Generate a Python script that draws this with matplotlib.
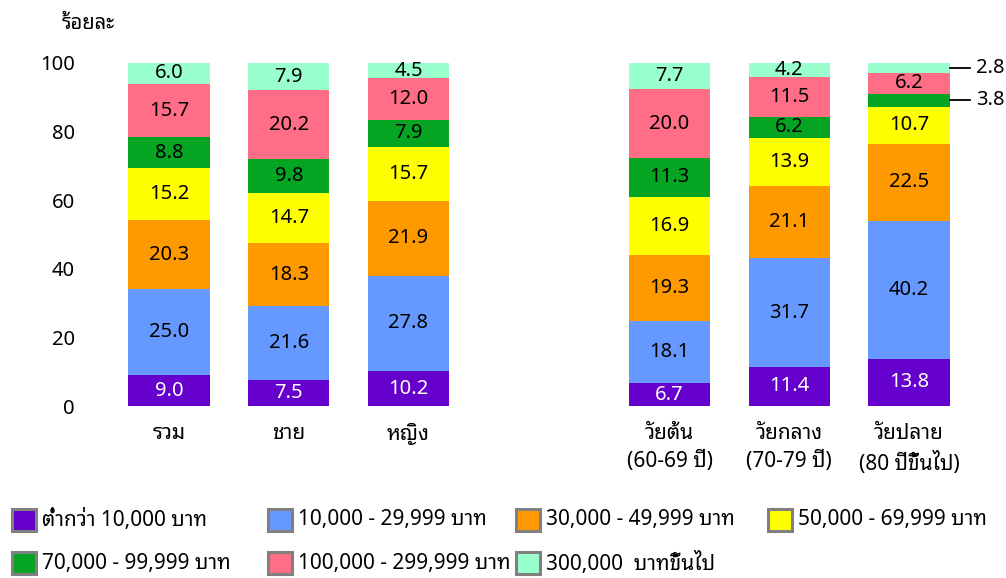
import matplotlib
matplotlib.use("Agg")
import matplotlib.pyplot as plt
from matplotlib.patches import Rectangle
import numpy as np

plt.rcParams["font.family"] = ["Noto Sans Thai Looped", "DejaVu Sans"]

# data
categories = ["รวม", "ชาย", "หญิง", "วัยต้น\n(60-69 ปี)", "วัยกลาง\n(70-79 ปี)", "วัยปลาย\n(80 ปีขึ้นไป)"]
income_groups = ["ต่ำกว่า 10,000 บาท", "10,000 - 29,999 บาท", "30,000 - 49,999 บาท",
                 "50,000 - 69,999 บาท", "70,000 - 99,999 บาท", "100,000 - 299,999 บาท",
                 "300,000  บาทขึ้นไป"]
below_10k = [9.0, 7.5, 10.2, 6.7, 11.4, 13.8]
k10_30 = [25.0, 21.6, 27.8, 18.1, 31.7, 40.2]
k30_50 = [20.3, 18.3, 21.9, 19.3, 21.1, 22.5]
k50_70 = [15.2, 14.7, 15.7, 16.9, 13.9, 10.7]
k70_100 = [8.8, 9.8, 7.9, 11.3, 6.2, 3.8]
k100_300 = [15.7, 20.2, 12.0, 20.0, 11.5, 6.2]
k300_up = [6.0, 7.9, 4.5, 7.7, 4.2, 2.8]
series = [below_10k, k10_30, k30_50, k50_70, k70_100, k100_300, k300_up]
yticks = [0, 20, 40, 60, 80, 100]

colors = ["#6600CC", "#6699FF", "#FF9900", "#FFFF00", "#05A523", "#FF6D86", "#99FFCC"]
label_colors = ["white"] + ["black"] * 6

W, H = 1006, 578
fig = plt.figure(figsize=(W / 100, H / 100), dpi=100)
ax = fig.add_axes([100 / W, (H - 406) / H, 880 / W, 343 / H])

x = np.array([0, 1, 2, 4.18, 5.18, 6.18])
bar_w = 0.68
bottom = np.zeros(len(categories))
for vals, col, tcol in zip(series, colors, label_colors):
    vals = np.array(vals)
    ax.bar(x, vals, bar_w, bottom=bottom, color=col, linewidth=0)
    for xi, b, v in zip(x, bottom, vals):
        if xi == x[-1] and v < 4:
            # small segments: leader line + label outside
            yc = b + v / 2
            ax.plot([xi + bar_w / 2, xi + bar_w / 2 + 0.17], [yc, yc], color="black", lw=1.3, clip_on=False)
            ax.text(xi + bar_w / 2 + 0.22, yc, f"{v:.1f}", ha="left", va="center", fontsize=14.5)
        else:
            ax.text(xi, b + v / 2, f"{v:.1f}", ha="center", va="center", fontsize=14.5, color=tcol)
    bottom += vals

ax.set_xlim(-69 / 119.7, 6.18 + 71 / 119.7)
ax.set_ylim(0, 100)
ax.set_yticks(yticks)
ax.set_yticklabels([str(t) for t in yticks], fontsize=14.5)
ax.set_xticks(x)
ax.set_xticklabels(categories, fontsize=15, fontweight="bold", linespacing=1.45)
ax.tick_params(length=0)
ax.tick_params(axis="y", pad=18)
ax.tick_params(axis="x", pad=12)
for s in ax.spines.values():
    s.set_visible(False)

fig.text(88 / W, 1 - 24 / H, "ร้อยละ", ha="center", va="center", fontsize=14.5, fontweight="bold")

# legend, drawn by hand in two rows
leg_x = [12, 268, 516, 768]
leg_y = [520, 563]
for i, (lab, col) in enumerate(zip(income_groups, colors)):
    r, c = divmod(i, 4)
    px, py = leg_x[c], leg_y[r]
    fig.patches.append(Rectangle((px / W, 1 - (py + 11) / H), 24 / W, 22 / H,
                                 transform=fig.transFigure, facecolor=col,
                                 edgecolor="#808080", linewidth=2.2))
    fig.text((px + 30) / W, 1 - py / H, lab, ha="left", va="center", fontsize=15)

fig.savefig("out.png", dpi=100)
